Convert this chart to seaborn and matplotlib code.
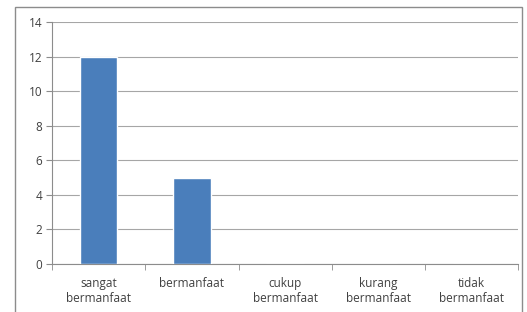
import pandas as pd
import seaborn as sns
import matplotlib.pyplot as plt
from matplotlib.patches import Rectangle

categories = ['sangat\nbermanfaat', 'bermanfaat', 'cukup\nbermanfaat', 'kurang\nbermanfaat', 'tidak\nbermanfaat']
values = [12, 5, 0, 0, 0]

df = pd.DataFrame({'kategori': categories, 'jumlah': values})

sns.set_style('white')
plt.rcParams['font.family'] = ['Open Sans', 'DejaVu Sans']

fig = plt.figure(figsize=(5.27, 3.12), dpi=100)
ax = fig.add_axes([0.099, 0.154, 0.884, 0.775])

sns.barplot(data=df, x='kategori', y='jumlah', color='#4A7EBB', width=0.4,
            saturation=1, ax=ax, zorder=3)

ax.set_ylim(0, 14)
ax.set_yticks(range(0, 15, 2))
ax.set_xlim(-0.5, 4.5)
ax.yaxis.grid(True, color='#a6a6a6', linewidth=0.8, zorder=0)
ax.set_xlabel('')
ax.set_ylabel('')

for side in ['top', 'right']:
    ax.spines[side].set_visible(False)
for side in ['left', 'bottom']:
    ax.spines[side].set_color('#8c8c8c')
    ax.spines[side].set_linewidth(0.8)

ax.tick_params(axis='y', left=True, length=4, color='#8c8c8c', labelsize=8.5, pad=3)
ax.tick_params(axis='x', bottom=False, labelsize=8.5, pad=6)
ax.tick_params(labelcolor='#404040')

# category boundary ticks below the axis
ax.set_xticks([-0.5, 0.5, 1.5, 2.5, 3.5, 4.5], minor=True)
ax.tick_params(axis='x', which='minor', bottom=True, length=4, color='#8c8c8c', direction='out')

# outer chart border
fig.patches.append(Rectangle((15 / 527, -0.01), 507 / 527, 1 - 7 / 312 + 0.01,
                             transform=fig.transFigure, fill=False,
                             edgecolor='#8c8c8c', linewidth=1))

fig.savefig('out.png', dpi=100)
